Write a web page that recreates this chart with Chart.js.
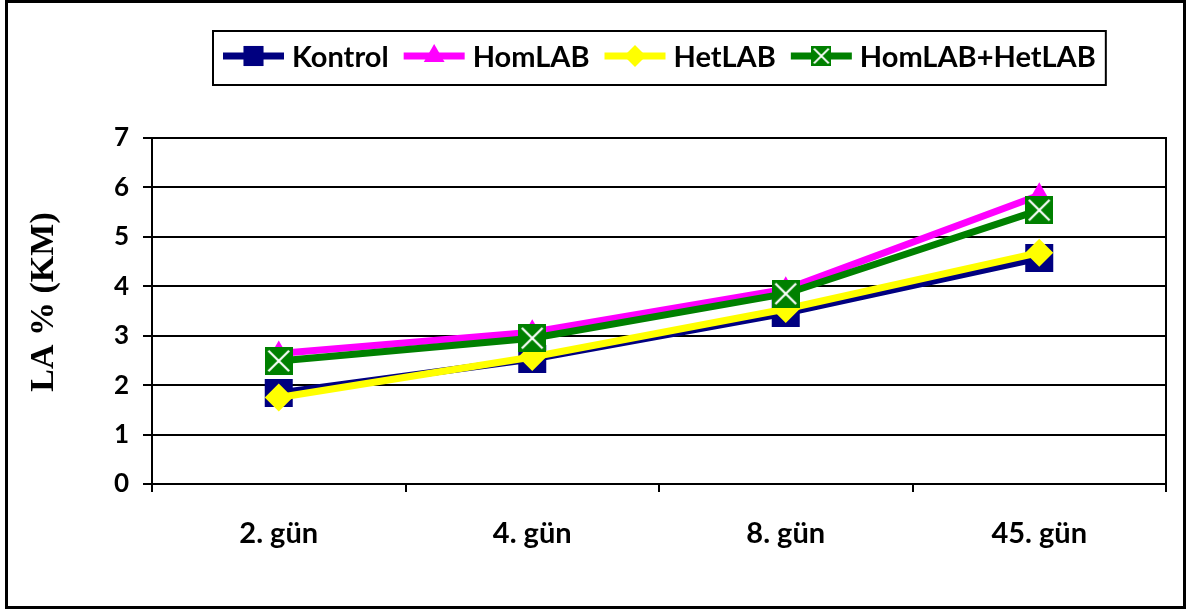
<!DOCTYPE html>
<html>
<head>
<meta charset="utf-8">
<script src="https://cdn.jsdelivr.net/npm/chart.js@4.4.1/dist/chart.umd.min.js"></script>
<style>
  html, body { margin: 0; padding: 0; background: #fff; }
  canvas { display: block; }
</style>
</head>
<body>
<canvas id="c" width="1188" height="611"></canvas>
<script>
// Sampling days and LA % (KM) per treatment group
const days = ['2. gün', '4. gün', '8. gün', '45. gün'];
const kontrol = [1.84, 2.53, 3.46, 4.57];
const homLAB = [2.64, 3.07, 3.94, 5.84];
const hetLAB = [1.75, 2.57, 3.54, 4.68];
const homHetLAB = [2.49, 2.95, 3.85, 5.54];
const yTicks = [0, 1, 2, 3, 4, 5, 6, 7];
const yTitle = 'LA % (KM)';
const seriesNames = ['Kontrol', 'HomLAB', 'HetLAB', 'HomLAB+HetLAB'];

const LABEL_FONT = 'Lato';

// green square marker with a white cross
function crossBox(size) {
  const c = document.createElement('canvas');
  c.width = size; c.height = size;
  const g = c.getContext('2d');
  g.fillStyle = '#008000';
  g.fillRect(0, 0, size, size);
  g.strokeStyle = '#ffffff';
  g.lineWidth = Math.max(2, size / 13);
  const m = size * 0.13;
  g.beginPath();
  g.moveTo(m, m); g.lineTo(size - m, size - m);
  g.moveTo(size - m, m); g.lineTo(m, size - m);
  g.stroke();
  return c;
}
const crossBig = crossBox(28);
const crossSmall = crossBox(20);

// legend drawn in a framed box above the plot, centred on the plot area
const boxLegend = {
  id: 'boxLegend',
  afterDraw(chart) {
    const ctx = chart.ctx;
    const a = chart.chartArea;
    ctx.save();
    ctx.font = 'bold 29px ' + LABEL_FONT;
    const seg = 61, gap = 8, sep = 15, padX = 10;
    const items = chart.data.datasets.map(ds => ({ ds, w: ctx.measureText(ds.label).width }));
    const total = items.reduce((s, it) => s + seg + gap + it.w, 0) + sep * (items.length - 1);
    const boxW = total + 2 * padX;
    const x0 = Math.round((a.left + a.right) / 2 - boxW / 2);
    const y0 = 31, h = 54;
    ctx.lineWidth = 2;
    ctx.strokeStyle = '#000';
    ctx.strokeRect(x0, y0, boxW, h);
    let x = x0 + padX;
    const my = 56, ty = 58;
    items.forEach(it => {
      const ds = it.ds;
      ctx.strokeStyle = ds.borderColor;
      ctx.lineWidth = 7;
      ctx.beginPath();
      ctx.moveTo(x, my); ctx.lineTo(x + seg, my);
      ctx.stroke();
      const lm = ds.legendMarker;
      ctx.fillStyle = ds.pointBackgroundColor;
      ctx.strokeStyle = ds.pointBackgroundColor;
      Chart.helpers.drawPoint(ctx, { pointStyle: lm.style, radius: lm.radius, rotation: 0, borderWidth: 0 }, x + seg / 2, my);
      ctx.fillStyle = '#000';
      ctx.textBaseline = 'middle';
      ctx.textAlign = 'left';
      ctx.fillText(ds.label, x + seg + gap, ty);
      x += seg + gap + it.w + sep;
    });
    ctx.restore();
  }
};

// vertical axis title, set left of the tick labels
const axisTitle = {
  id: 'axisTitle',
  afterDraw(chart) {
    const ctx = chart.ctx;
    const a = chart.chartArea;
    ctx.save();
    ctx.translate(44, (a.top + a.bottom) / 2 - 9);
    ctx.rotate(-Math.PI / 2);
    ctx.font = 'bold 34px "Liberation Serif"';
    ctx.fillStyle = '#000';
    ctx.textAlign = 'center';
    ctx.textBaseline = 'middle';
    ctx.fillText(yTitle, 0, 0);
    ctx.restore();
  }
};

// frame around the whole figure and right edge of the plot area
const frames = {
  id: 'frames',
  afterDraw(chart) {
    const ctx = chart.ctx;
    const a = chart.chartArea;
    ctx.save();
    ctx.strokeStyle = '#000';
    ctx.lineWidth = 2;
    ctx.beginPath();
    ctx.moveTo(a.right, a.top - 1);
    ctx.lineTo(a.right, a.bottom + 1);
    ctx.stroke();
    ctx.lineWidth = 3;
    ctx.strokeRect(6.5, 1.5, 1178, 606);
    ctx.restore();
  }
};

const lineW = 7;
const data = {
  labels: days,
  datasets: [
    {
      label: seriesNames[0], data: kontrol, order: 3,
      borderColor: '#000080', pointBackgroundColor: '#000080', pointBorderColor: '#000080',
      pointStyle: 'rect', pointRadius: 19.8, pointBorderWidth: 0,
      legendMarker: { style: 'rect', radius: 14.2 }
    },
    {
      label: seriesNames[1], data: homLAB, order: 2,
      borderColor: '#FF00FF', pointBackgroundColor: '#FF00FF', pointBorderColor: '#FF00FF',
      pointStyle: 'triangle', pointRadius: 13, pointBorderWidth: 0,
      legendMarker: { style: 'triangle', radius: 12 }
    },
    {
      label: seriesNames[2], data: hetLAB, order: 1,
      borderColor: '#FFFF00', pointBackgroundColor: '#FFFF00', pointBorderColor: '#FFFF00',
      pointStyle: 'rectRot', pointRadius: 14, pointBorderWidth: 0,
      legendMarker: { style: 'rectRot', radius: 11 }
    },
    {
      label: seriesNames[3], data: homHetLAB, order: 0,
      borderColor: '#008000', pointBackgroundColor: '#008000', pointBorderColor: '#008000',
      pointStyle: crossBig, pointRadius: 14, pointBorderWidth: 0,
      legendMarker: { style: crossSmall, radius: 10 }
    }
  ].map(ds => Object.assign({ borderWidth: lineW, tension: 0, fill: false, pointHoverRadius: ds.pointRadius }, ds))
};

new Chart(document.getElementById('c'), {
  type: 'line',
  data,
  options: {
    responsive: false,
    devicePixelRatio: 1,
    animation: false,
    events: [],
    layout: { padding: { top: 138, left: 8, right: 22, bottom: 0 } },
    plugins: { legend: { display: false }, tooltip: { enabled: false } },
    scales: {
      x: {
        offset: true,
        grid: { offset: true, drawOnChartArea: false, drawTicks: true, tickLength: 8, color: '#000', lineWidth: 2 },
        border: { display: true, color: '#000', width: 2 },
        ticks: { color: '#000', padding: 24, font: { family: LABEL_FONT, size: 29, weight: 'bold' }, maxRotation: 0 },
        afterFit(s) { s.height = 127; }
      },
      y: {
        min: 0, max: 7,
        afterBuildTicks(s) { s.ticks = yTicks.map(v => ({ value: v })); },
        grid: { color: '#000', lineWidth: 2, drawTicks: true, tickLength: 9 },
        border: { display: true, color: '#000', width: 2 },
        ticks: { color: '#000', padding: 14, font: { family: LABEL_FONT, size: 26, weight: 'bold' } },
        afterFit(s) { s.width = 144; }
      }
    }
  },
  plugins: [boxLegend, axisTitle, frames]
});
</script>
</body>
</html>
